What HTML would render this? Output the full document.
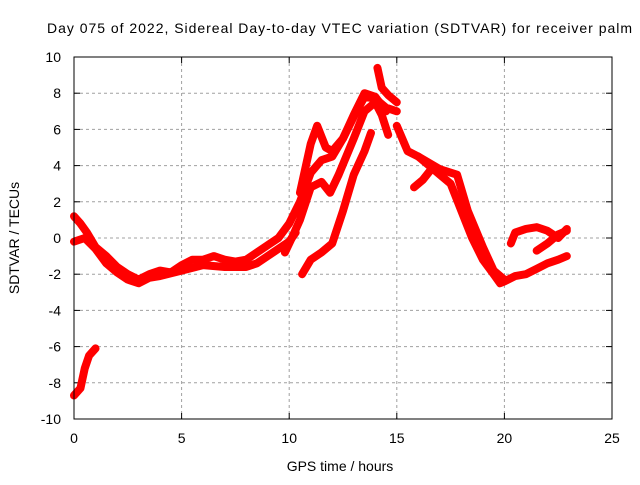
<!DOCTYPE html>
<html><head><meta charset="utf-8"><style>
body{margin:0;background:#fff;font-family:"Liberation Sans",sans-serif}
svg text{font-family:"Liberation Sans",sans-serif;font-size:14px;fill:#000}
</style></head><body>
<svg id="chart" width="640" height="480">
<text x="47" y="33" textLength="585" lengthAdjust="spacing">Day 075 of 2022, Sidereal Day-to-day VTEC variation (SDTVAR) for receiver palm</text>
<g id="grid"></g>
<g id="axes"></g>
<g id="series"></g>
<rect x="74" y="57" width="538" height="362" fill="none" stroke="#000" stroke-width="1"/>
<text x="340" y="471" text-anchor="middle">GPS time / hours</text>
<text transform="translate(19,238) rotate(-90)" text-anchor="middle">SDTVAR / TECUs</text>
</svg>
<script>
const xTicks=[0,5,10,15,20,25];
const yTicks=[-10,-8,-6,-4,-2,0,2,4,6,8,10];
const stripA_x=[0,0.3,0.6,1,1.5,2,2.5,3,3.5,4,4.5,5,5.5,6,6.5,7,7.5,8,8.5,9,9.5,10,10.5,11,11.5,12,12.5,13,13.5,14,14.5,15];
const stripA_y=[1.2,0.8,0.3,-0.5,-1,-1.6,-2,-2.3,-2,-1.8,-1.9,-1.5,-1.2,-1.2,-1,-1.2,-1.3,-1.2,-0.8,-0.4,0,0.8,2,3.6,4.3,4.5,5.5,6.7,7.8,7.7,7.2,7];
const stripA2_x=[0,0.5,1,1.5,2,2.5,3,3.5,4,5,6,7,8,8.5,9,9.5,10,10.3];
const stripA2_y=[-0.2,0,-0.6,-1.4,-1.9,-2.3,-2.5,-2.2,-2.1,-1.8,-1.5,-1.6,-1.6,-1.4,-1,-0.6,-0.2,0.3];
const stripB_x=[10.5,11,11.3,11.7,12,12.5,13,13.5,14,14.5];
const stripB_y=[2.5,5.2,6.2,5,4.8,5.5,6.8,8,7.8,7];
const stripC_x=[9.8,10.2,10.5,11,11.5,11.9,12.3,13,13.5,14,14.3,14.6];
const stripC_y=[-0.8,0.2,1,2.8,3.1,2.5,3.5,5.5,7,7.5,6.8,5.7];
const stripD_x=[10.6,11,11.5,12,12.5,13,13.5,13.8];
const stripD_y=[-2,-1.2,-0.8,-0.3,1.5,3.5,4.8,5.8];
const spike_x=[14.1,14.3,14.6,15];
const spike_y=[9.4,8.3,7.9,7.5];
const stripE_x=[15,15.5,16,16.5,17,17.5,18,18.5,19,19.5,19.8,20,20.5,21,21.5,22,22.5,22.9];
const stripE_y=[6.2,4.8,4.5,4,3.5,3,1.5,0,-1.2,-2,-2.5,-2.4,-2.1,-2,-1.7,-1.4,-1.2,-1];
const stripF_x=[16,17,17.8,18.3,19,19.5,20];
const stripF_y=[4.5,3.8,3.5,1.5,-0.5,-1.8,-2.3];
const branch_x=[15.8,16.2,16.6];
const branch_y=[2.8,3.2,3.8];
const stripG_x=[20.3,20.5,21,21.5,22,22.5,22.9];
const stripG_y=[-0.3,0.3,0.5,0.6,0.4,0,0.5];
const stripH_x=[21.5,22,22.5,22.9];
const stripH_y=[-0.7,-0.3,0.2,0.4];
const low_x=[0,0.3,0.5,0.7,1];
const low_y=[-8.7,-8.3,-7.2,-6.5,-6.1];
const series=[[stripA_x,stripA_y],[stripA2_x,stripA2_y],[stripB_x,stripB_y],[stripC_x,stripC_y],[stripD_x,stripD_y],[spike_x,spike_y],[stripE_x,stripE_y],[stripF_x,stripF_y],[branch_x,branch_y],[stripG_x,stripG_y],[stripH_x,stripH_y],[low_x,low_y]];
const X=v=>74+v*(538/25), Y=v=>238-v*(362/20);
const NS="http://www.w3.org/2000/svg";
const grid=document.getElementById('grid'),axes=document.getElementById('axes'),S=document.getElementById('series');
function mk(t,a,p){const e=document.createElementNS(NS,t);for(const k in a)e.setAttribute(k,a[k]);p.appendChild(e);return e;}
xTicks.forEach(v=>{
 if(v>0&&v<25){const g=mk('line',{x1:X(v),x2:X(v),y1:57,y2:419,stroke:'#a0a0a0','stroke-dasharray':'3,3'},grid);
 
 }
 mk('line',{x1:X(v),x2:X(v),y1:419,y2:413,stroke:'#000'},axes);
 mk('line',{x1:X(v),x2:X(v),y1:57,y2:63,stroke:'#000'},axes);
 const t=mk('text',{x:X(v),y:443,'text-anchor':'middle'},axes);t.textContent=v;
 
 
});
yTicks.forEach(v=>{
 if(v>-10&&v<10){const g=mk('line',{x1:74,x2:612,y1:Y(v),y2:Y(v),stroke:'#a0a0a0','stroke-dasharray':'3,3'},grid);
 
 }
 mk('line',{x1:74,x2:80,y1:Y(v),y2:Y(v),stroke:'#000'},axes);
 mk('line',{x1:606,x2:612,y1:Y(v),y2:Y(v),stroke:'#000'},axes);
 const t=mk('text',{x:61,y:Y(v)+5,'text-anchor':'end'},axes);t.textContent=v;
 
 
});
series.forEach(([xs,ys])=>{
 const pts=xs.map((x,i)=>X(x)+','+Y(ys[i])).join(' ');
 const p=mk('polyline',{points:pts,fill:'none',stroke:'#ff0000','stroke-width':8,'stroke-linejoin':'round','stroke-linecap':'round'},S);
 
 
});
</script>
</body></html>
